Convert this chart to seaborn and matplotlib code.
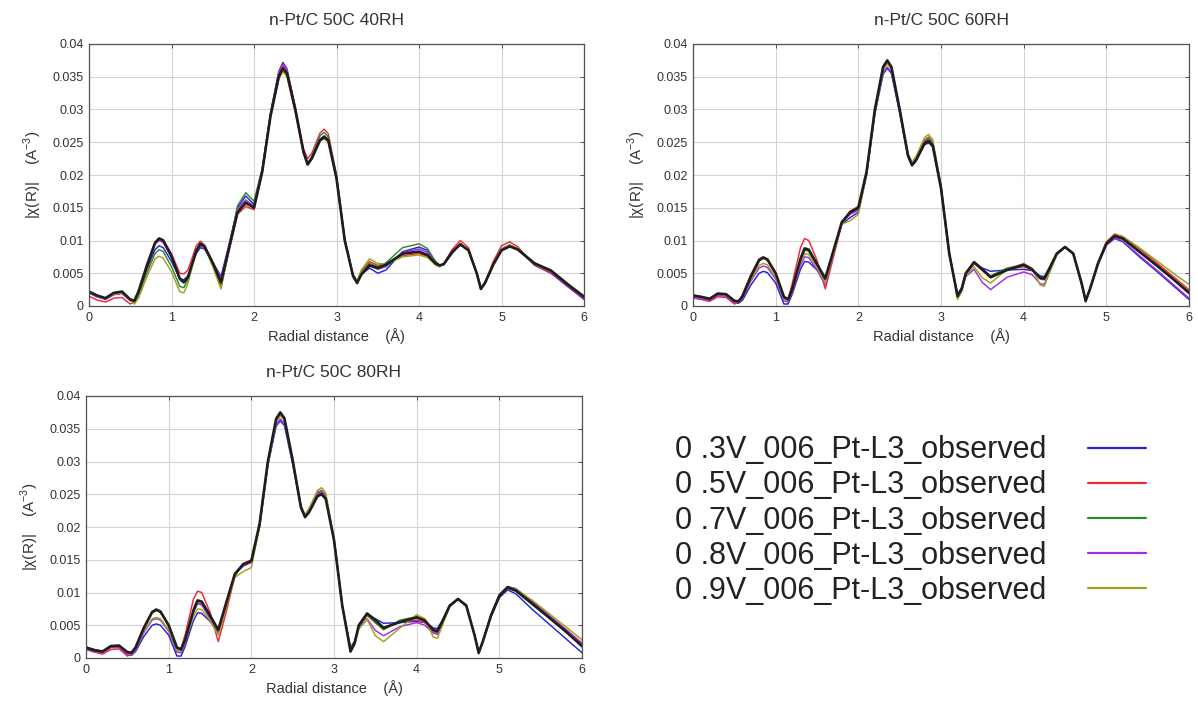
import numpy as np
import pandas as pd
import matplotlib
matplotlib.use("Agg")
import matplotlib.pyplot as plt
import seaborn as sns
from matplotlib.ticker import FuncFormatter, MultipleLocator

# ---------------- data (|chi(R)| in units of 1e-3 A^-3) ----------------
R = [0.0, 0.1, 0.2, 0.3, 0.4, 0.5, 0.55, 0.6, 0.7, 0.8,
     0.85, 0.9, 1.0, 1.1, 1.15, 1.2, 1.3, 1.35, 1.4, 1.5,
     1.6, 1.7, 1.8, 1.9, 2.0, 2.1, 2.2, 2.3, 2.35, 2.4,
     2.5, 2.6, 2.65, 2.7, 2.8, 2.85, 2.9, 3.0, 3.1, 3.2,
     3.25, 3.3, 3.4, 3.5, 3.6, 3.8, 4.0, 4.1, 4.2, 4.25,
     4.3, 4.4, 4.5, 4.6, 4.7, 4.75, 4.8, 4.9, 5.0, 5.1,
     5.2, 5.4, 5.6, 5.8, 6.0]

TITLES = ["n-Pt/C 50C 40RH", "n-Pt/C 50C 60RH", "n-Pt/C 50C 80RH"]
SERIES = ["0 .3V_006_Pt-L3_observed", "0 .5V_006_Pt-L3_observed",
          "0 .7V_006_Pt-L3_observed", "0 .8V_006_Pt-L3_observed",
          "0 .9V_006_Pt-L3_observed"]
COLORS = ["#2424d8", "#ee2a3a", "#2e8a2e", "#a030e0", "#a0a020"]

# 40RH
P40_B = [2.0, 1.4, 1.1, 1.8, 2.0, 0.9, 0.8, 2.0, 5.6, 8.6,
         9.2, 8.9, 6.8, 4.2, 4.0, 4.6, 8.0, 8.9, 8.7, 6.7,
         4.5, 9.5, 15.0, 16.8, 15.5, 21.0, 29.5, 35.8, 37.2, 36.2,
         30.2, 23.5, 21.8, 22.6, 25.4, 25.9, 25.3, 19.5, 10.0, 4.8,
         3.8, 4.8, 5.8, 5.0, 5.5, 8.3, 9.0, 8.5, 6.8, 6.2,
         6.3, 8.0, 9.4, 8.5, 5.0, 2.7, 3.5, 6.4, 8.7, 9.3,
         8.7, 6.3, 5.0, 3.0, 1.0]
P40_R = [1.5, 0.9, 0.6, 1.2, 1.3, 0.3, 0.6, 2.4, 6.5, 9.8,
         10.4, 10.1, 8.0, 5.0, 4.9, 5.5, 9.2, 9.9, 9.3, 6.5,
         3.0, 8.5, 14.0, 15.2, 14.7, 20.5, 29.3, 35.6, 37.0, 36.0,
         30.5, 24.0, 22.5, 23.3, 26.4, 27.0, 26.3, 20.0, 10.3, 4.8,
         3.8, 5.3, 6.8, 6.2, 6.5, 7.7, 8.0, 7.6, 6.3, 6.0,
         6.4, 8.6, 10.0, 8.9, 5.0, 2.6, 3.6, 6.8, 9.2, 9.8,
         9.0, 6.2, 5.0, 3.1, 1.2]
P40_G = [2.1, 1.5, 1.1, 1.9, 2.1, 0.9, 0.5, 1.6, 5.0, 8.0,
         8.6, 8.3, 6.0, 3.0, 2.8, 4.0, 8.6, 9.6, 9.2, 6.3,
         2.8, 9.0, 15.3, 17.3, 16.0, 21.0, 29.0, 34.8, 36.0, 35.2,
         29.8, 23.5, 21.8, 22.8, 26.0, 26.5, 25.8, 19.8, 10.2, 4.5,
         3.6, 5.0, 6.5, 6.0, 6.6, 8.9, 9.5, 8.8, 6.8, 6.2,
         6.4, 8.2, 9.5, 8.5, 5.0, 2.7, 3.6, 6.4, 8.7, 9.3,
         8.7, 6.6, 5.5, 3.5, 1.5]
P40_P = [2.0, 1.4, 1.0, 1.7, 1.9, 0.8, 0.7, 2.2, 6.2, 9.5,
         10.0, 9.7, 7.4, 4.0, 3.6, 4.5, 8.3, 9.2, 8.8, 6.6,
         4.2, 9.3, 14.8, 16.2, 15.2, 20.8, 29.3, 35.5, 36.8, 35.9,
         30.2, 23.6, 21.8, 22.6, 25.5, 26.0, 25.4, 19.6, 10.0, 4.6,
         3.6, 5.0, 6.2, 5.6, 6.0, 8.2, 8.7, 8.2, 6.6, 6.1,
         6.3, 8.1, 9.5, 8.5, 5.0, 2.7, 3.5, 6.4, 8.7, 9.3,
         8.6, 6.3, 5.1, 3.0, 1.1]
P40_O = [2.1, 1.5, 1.1, 1.8, 2.0, 0.9, 0.3, 1.2, 4.4, 7.2,
         7.6, 7.3, 5.2, 2.2, 2.0, 3.5, 8.3, 9.3, 9.0, 6.0,
         2.6, 8.8, 14.6, 15.5, 15.0, 20.5, 28.8, 34.6, 35.8, 35.0,
         29.6, 23.3, 21.6, 22.5, 25.2, 25.5, 25.0, 19.3, 10.0, 4.5,
         3.8, 5.5, 7.2, 6.5, 6.4, 7.5, 7.8, 7.4, 6.3, 6.0,
         6.4, 8.2, 9.6, 8.5, 5.0, 2.7, 3.6, 6.4, 8.7, 9.3,
         8.7, 6.4, 5.3, 3.4, 1.6]
P40_K = [2.2, 1.6, 1.2, 2.0, 2.2, 1.0, 0.8, 2.2, 6.0, 9.6,
         10.3, 10.0, 7.6, 4.2, 3.6, 4.4, 8.4, 9.5, 9.1, 6.6,
         3.6, 9.0, 14.3, 15.8, 15.0, 20.5, 29.0, 35.0, 36.3, 35.5,
         30.0, 23.5, 21.6, 22.5, 25.3, 25.8, 25.3, 19.5, 10.0, 4.6,
         3.5, 4.8, 6.2, 5.8, 6.3, 8.0, 8.3, 7.8, 6.5, 6.2,
         6.4, 8.2, 9.4, 8.5, 5.0, 2.6, 3.5, 6.3, 8.5, 9.1,
         8.6, 6.5, 5.4, 3.3, 1.4]

# 60RH
P60_B = [1.5, 1.3, 1.0, 1.8, 1.7, 0.6, 0.4, 0.9, 3.2, 5.0,
         5.3, 5.1, 3.5, 0.3, 0.3, 1.8, 5.6, 6.8, 6.7, 5.5,
         4.0, 8.3, 12.5, 13.5, 14.3, 20.0, 29.3, 35.4, 36.3, 35.5,
         29.5, 22.8, 21.4, 22.2, 24.6, 24.9, 24.3, 17.8, 7.8, 1.8,
         2.8, 5.0, 6.5, 5.8, 5.3, 5.5, 5.6, 5.4, 4.6, 4.5,
         5.6, 8.0, 9.0, 8.0, 3.5, 0.7, 2.5, 6.5, 9.3, 10.3,
         9.8, 7.5, 5.4, 3.2, 1.0]
P60_R = [1.2, 1.0, 0.7, 1.4, 1.3, 0.3, 0.6, 1.8, 4.8, 7.2,
         7.5, 7.2, 5.0, 1.2, 1.0, 3.4, 8.9, 10.3, 10.0, 7.0,
         2.6, 7.5, 12.5, 14.5, 15.2, 20.6, 30.0, 36.4, 37.4, 36.5,
         30.2, 23.3, 21.8, 22.7, 25.3, 25.8, 25.0, 18.3, 8.2, 1.3,
         2.4, 4.8, 6.5, 5.4, 4.3, 5.6, 6.0, 5.5, 4.1, 4.0,
         5.3, 8.0, 9.1, 8.1, 3.5, 0.6, 2.6, 6.7, 9.8, 11.0,
         10.6, 8.7, 6.7, 4.6, 2.5]
P60_G = [1.7, 1.4, 1.1, 1.9, 1.8, 0.8, 0.7, 1.5, 4.4, 6.9,
         7.3, 7.0, 4.9, 1.4, 1.0, 2.6, 7.0, 8.5, 8.4, 6.2,
         4.0, 8.3, 12.8, 14.2, 14.8, 20.3, 29.8, 36.3, 37.2, 36.3,
         29.9, 23.0, 21.5, 22.4, 25.1, 25.6, 24.8, 18.1, 8.0, 1.4,
         2.5, 5.0, 6.6, 5.6, 4.6, 5.8, 6.3, 5.7, 4.2, 4.1,
         5.4, 8.0, 9.0, 8.0, 3.5, 0.8, 2.5, 6.5, 9.5, 10.6,
         10.2, 8.2, 6.2, 4.2, 2.2]
P60_P = [1.3, 1.1, 0.8, 1.6, 1.5, 0.5, 0.5, 1.2, 3.8, 5.8,
         6.1, 5.9, 4.1, 0.8, 0.6, 2.2, 6.2, 7.5, 7.4, 5.5,
         3.2, 8.0, 12.8, 14.0, 14.6, 20.2, 29.6, 35.6, 36.5, 35.7,
         29.7, 23.0, 21.6, 22.5, 25.0, 25.3, 24.6, 18.0, 8.0, 1.6,
         2.5, 4.5, 5.6, 3.6, 2.5, 4.4, 5.2, 4.8, 3.4, 3.3,
         4.8, 7.8, 9.0, 8.0, 3.5, 0.7, 2.5, 6.5, 9.3, 10.4,
         9.9, 7.7, 5.6, 3.4, 1.2]
P60_O = [1.6, 1.3, 1.0, 1.8, 1.7, 0.7, 0.6, 1.3, 4.0, 6.2,
         6.5, 6.3, 4.4, 1.1, 0.8, 2.4, 6.6, 8.0, 7.9, 5.9,
         3.5, 8.0, 12.5, 13.0, 14.0, 20.0, 29.5, 36.0, 37.0, 36.2,
         30.0, 23.3, 21.9, 22.9, 25.7, 26.2, 25.4, 18.5, 8.2, 1.0,
         2.2, 4.6, 6.0, 4.3, 3.5, 5.6, 6.5, 5.8, 3.2, 3.0,
         4.7, 7.8, 9.0, 8.0, 3.5, 0.8, 2.6, 6.7, 9.7, 10.9,
         10.6, 8.9, 7.0, 5.1, 3.3]
P60_K = [1.6, 1.4, 1.1, 1.9, 1.8, 0.8, 0.7, 1.5, 4.5, 7.0,
         7.4, 7.1, 5.0, 1.4, 1.0, 2.6, 7.2, 8.8, 8.6, 6.4,
         4.2, 8.5, 12.8, 14.3, 15.0, 20.5, 30.0, 36.5, 37.5, 36.5,
         30.0, 23.0, 21.5, 22.3, 24.8, 25.2, 24.5, 18.0, 8.0, 1.5,
         2.6, 5.0, 6.7, 5.6, 4.4, 5.5, 6.3, 5.6, 4.3, 4.2,
         5.4, 8.0, 9.0, 8.0, 3.5, 0.8, 2.5, 6.5, 9.5, 10.7,
         10.3, 8.3, 6.3, 4.2, 2.0]

# 80RH
P80_B = [1.5, 1.1, 0.9, 1.7, 1.8, 0.7, 0.4, 1.0, 3.3, 5.0,
         5.2, 5.0, 3.5, 0.3, 0.3, 1.8, 5.7, 6.9, 6.8, 5.6,
         4.0, 8.3, 12.8, 14.2, 14.6, 20.0, 29.4, 35.4, 36.2, 35.5,
         29.6, 22.9, 21.5, 22.4, 25.0, 25.3, 24.5, 18.0, 8.0, 1.6,
         2.6, 5.0, 6.6, 6.0, 5.3, 5.4, 5.6, 5.4, 4.6, 4.5,
         5.5, 8.0, 9.0, 8.0, 3.5, 0.8, 2.5, 6.3, 9.2, 10.4,
         9.8, 7.4, 5.2, 3.0, 0.8]
P80_R = [1.3, 0.9, 0.6, 1.3, 1.4, 0.3, 0.6, 1.8, 4.8, 7.1,
         7.4, 7.2, 5.0, 1.6, 1.5, 3.6, 9.0, 10.2, 10.0, 7.0,
         2.5, 7.2, 12.5, 14.4, 15.0, 20.5, 29.8, 36.3, 37.3, 36.5,
         30.2, 23.2, 21.7, 22.6, 25.0, 25.3, 24.6, 18.0, 8.0, 1.2,
         2.4, 4.8, 6.5, 5.4, 4.5, 5.5, 5.8, 5.4, 4.0, 3.8,
         5.2, 8.0, 9.1, 8.1, 3.5, 0.6, 2.6, 6.6, 9.7, 10.9,
         10.5, 8.6, 6.5, 4.4, 2.3]
P80_G = [1.7, 1.3, 1.0, 1.9, 1.9, 0.9, 0.7, 1.5, 4.5, 6.9,
         7.2, 7.0, 4.9, 1.5, 1.2, 2.7, 7.0, 8.4, 8.3, 6.3,
         4.1, 8.4, 12.9, 14.2, 14.7, 20.3, 29.8, 36.3, 37.2, 36.4,
         30.0, 23.0, 21.6, 22.5, 25.3, 25.6, 24.8, 18.2, 8.0, 1.1,
         2.3, 4.9, 6.6, 5.4, 4.3, 5.8, 6.3, 5.8, 4.2, 4.0,
         5.3, 8.0, 9.0, 8.0, 3.5, 0.8, 2.5, 6.5, 9.4, 10.6,
         10.2, 8.1, 6.1, 4.0, 2.0]
P80_P = [1.3, 1.0, 0.8, 1.6, 1.6, 0.5, 0.5, 1.2, 3.9, 5.8,
         6.0, 5.8, 4.1, 0.9, 0.8, 2.5, 7.0, 8.3, 8.1, 6.0,
         3.6, 8.2, 12.8, 14.0, 14.6, 20.2, 29.6, 35.6, 36.5, 35.8,
         29.8, 23.0, 21.6, 22.5, 25.1, 25.4, 24.6, 18.0, 8.0, 1.5,
         2.5, 4.6, 6.0, 4.2, 3.4, 4.8, 5.4, 5.0, 3.8, 3.6,
         5.0, 7.9, 9.0, 8.0, 3.5, 0.7, 2.5, 6.6, 9.6, 10.9,
         10.6, 8.6, 6.5, 4.4, 2.2]
P80_O = [1.6, 1.2, 1.0, 1.7, 1.8, 0.8, 0.6, 1.4, 4.1, 6.0,
         6.2, 6.0, 4.3, 1.2, 1.0, 2.5, 6.4, 7.5, 7.4, 5.7,
         3.5, 8.0, 12.3, 13.2, 13.8, 20.0, 29.5, 36.0, 37.0, 36.3,
         30.0, 23.3, 21.9, 22.9, 25.6, 26.0, 25.2, 18.4, 8.2, 0.9,
         2.0, 4.4, 5.9, 3.4, 2.5, 4.6, 6.6, 6.0, 3.2, 3.0,
         4.6, 7.8, 9.0, 8.0, 3.5, 0.8, 2.6, 6.7, 9.6, 10.8,
         10.5, 8.8, 6.8, 4.8, 2.8]
P80_K = [1.6, 1.2, 1.0, 1.8, 1.9, 0.9, 0.8, 1.6, 4.6, 7.0,
         7.4, 7.1, 5.0, 1.6, 1.3, 2.8, 7.3, 8.8, 8.6, 6.5,
         4.3, 8.6, 12.8, 14.3, 14.8, 20.5, 30.0, 36.5, 37.5, 36.6,
         30.2, 23.0, 21.5, 22.3, 24.7, 25.0, 24.3, 18.0, 8.0, 1.0,
         2.3, 5.0, 6.8, 5.8, 4.6, 5.5, 6.2, 5.7, 4.3, 4.1,
         5.3, 8.0, 9.0, 8.0, 3.5, 0.8, 2.5, 6.5, 9.5, 10.8,
         10.3, 8.3, 6.2, 4.1, 1.8]

PANELS = [
    (TITLES[0], [P40_B, P40_R, P40_G, P40_P, P40_O], P40_K),
    (TITLES[1], [P60_B, P60_R, P60_G, P60_P, P60_O], P60_K),
    (TITLES[2], [P80_B, P80_R, P80_G, P80_P, P80_O], P80_K),
]

# ---------------- styling ----------------
sns.set_style("white")
plt.rcParams["font.family"] = ["Liberation Sans", "DejaVu Sans"]
plt.rcParams["mathtext.fontset"] = "custom"
plt.rcParams["mathtext.rm"] = "Liberation Sans"

W, H = 1198, 710
fig = plt.figure(figsize=(W / 100, H / 100), dpi=100)

def frac(left, top, right, bottom):
    return [left / W, 1 - bottom / H, (right - left) / W, (bottom - top) / H]

boxes = [frac(89, 44, 584, 306), frac(693, 44, 1189, 306), frac(86, 396, 582, 658)]

TXT = "#333333"
legend_handles = None
for (title, series_vals, ref_vals), box in zip(PANELS, boxes):
    ax = fig.add_axes(box)
    rows = []
    for name, vals in zip(SERIES, series_vals):
        for r, v in zip(R, vals):
            rows.append((r, v * 1e-3, name))
    df = pd.DataFrame(rows, columns=["R", "chi", "series"])
    sns.lineplot(data=df, x="R", y="chi", hue="series", hue_order=SERIES,
                 palette=dict(zip(SERIES, COLORS)), linewidth=1.05,
                 legend=False, ax=ax, estimator=None, sort=False)
    dref = pd.DataFrame({"R": R, "chi": np.array(ref_vals) * 1e-3})
    sns.lineplot(data=dref, x="R", y="chi", color="#1e1e1e", linewidth=1.9,
                 ax=ax, estimator=None, sort=False)
    if legend_handles is None:
        legend_handles = ax.get_lines()[:5]

    ax.set_xlim(0, 6)
    ax.set_ylim(0, 0.04)
    ax.xaxis.set_major_locator(MultipleLocator(1))
    ax.yaxis.set_major_locator(MultipleLocator(0.005))
    ax.yaxis.set_major_formatter(FuncFormatter(lambda v, p: "0" if abs(v) < 1e-12 else f"{v:g}"))
    ax.grid(True, color="#d4d4d4", linewidth=0.8)
    ax.set_axisbelow(True)
    for sp in ax.spines.values():
        sp.set_color("#505050")
        sp.set_linewidth(0.9)
    ax.tick_params(direction="in", length=3, width=0.7, colors="#505050",
                   labelcolor=TXT, labelsize=9, top=True, right=True, pad=4)
    ax.set_title(title, fontsize=12.5, color=TXT, pad=14)
    ax.set_xlabel("Radial distance    (Å)", fontsize=10.5, color=TXT, labelpad=3)
    ax.set_ylabel("|χ(R)|    (A$^{-3}$)", fontsize=11, color=TXT)
    ax.yaxis.set_label_coords(-0.09, 0.5)

leg = fig.legend(legend_handles, SERIES, loc="upper left",
                 bbox_to_anchor=(660 / W, 1 - 420 / H), frameon=False,
                 markerfirst=False, fontsize=22, handlelength=1.9,
                 handletextpad=1.35, labelspacing=0.17, borderpad=0)
for t in leg.get_texts():
    t.set_color("#222222")
for ln in leg.get_lines():
    ln.set_linewidth(1.6)

fig.savefig("out.png", dpi=100, facecolor="white")
